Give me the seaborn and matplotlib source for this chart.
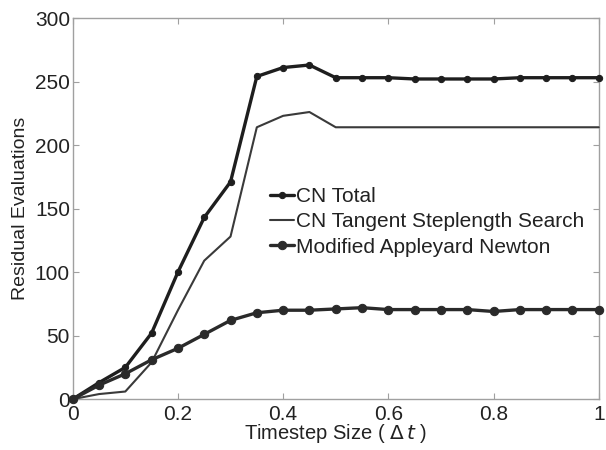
import numpy as np
import pandas as pd
import matplotlib
matplotlib.use("Agg")
import matplotlib.pyplot as plt
import seaborn as sns

timestep = [0.0, 0.05, 0.10, 0.15, 0.20, 0.25, 0.30, 0.35, 0.40, 0.45, 0.50,
            0.55, 0.60, 0.65, 0.70, 0.75, 0.80, 0.85, 0.90, 0.95, 1.0]
cn_total = [0, 13, 25, 52, 100, 143, 171, 254, 261, 263, 253,
            253, 253, 252, 252, 252, 252, 253, 253, 253, 253]
cn_tangent = [0, 4, 6, 29, 70, 109, 128, 214, 223, 226, 214,
              214, 214, 214, 214, 214, 214, 214, 214, 214, 214]
mod_appleyard = [0, 11, 20, 31, 40, 51, 62, 68, 70, 70, 71,
                 72, 70.5, 70.5, 70.5, 70.5, 69, 70.5, 70.5, 70.5, 70.5]
series_names = ["CN Total", "CN Tangent Steplength Search", "Modified Appleyard Newton"]
x_ticks = [0, 0.2, 0.4, 0.6, 0.8, 1]
x_tick_labels = ["0", "0.2", "0.4", "0.6", "0.8", "1"]
y_ticks = [0, 50, 100, 150, 200, 250, 300]

df = pd.DataFrame({
    "x": timestep * 3,
    "y": cn_total + cn_tangent + mod_appleyard,
    "series": [series_names[0]] * len(timestep)
              + [series_names[1]] * len(timestep)
              + [series_names[2]] * len(timestep),
})

sns.set_theme(style="white")
plt.rcParams["font.family"] = ["Liberation Sans", "DejaVu Sans"]

fig = plt.figure(figsize=(6.06, 4.5), dpi=100)
ax = fig.add_axes([0.120, 0.113, 0.868, 0.847])

styles = {
    series_names[0]: dict(lw=2.4, marker="o", ms=4.5, color="#1e1e1e"),
    series_names[1]: dict(lw=1.5, marker=None, ms=0, color="#3a3a3a"),
    series_names[2]: dict(lw=2.4, marker="o", ms=6, color="#2a2a2a"),
}
for name in series_names:
    sub = df[df["series"] == name]
    st = styles[name]
    sns.lineplot(data=sub, x="x", y="y", ax=ax, label=name, color=st["color"],
                 linewidth=st["lw"], marker=st["marker"], markersize=st["ms"],
                 markeredgecolor=st["color"], markerfacecolor=st["color"],
                 clip_on=False, zorder=3)

ax.set_xlim(0, 1)
ax.set_ylim(0, 300)
ax.set_xticks(x_ticks)
ax.set_xticklabels(x_tick_labels)
ax.set_yticks(y_ticks)
for s in ax.spines.values():
    s.set_color("#a0a0a0")
    s.set_linewidth(1.0)
ax.tick_params(axis="both", which="both", direction="in", length=4, width=0.8,
               color="#a0a0a0", labelsize=15, labelcolor="#222222", pad=2,
               top=True, right=True, bottom=True, left=True)
ax.tick_params(axis="x", pad=4)
ax.set_xlabel(r"Timestep Size ( $\Delta\,\it{t}$ )", fontsize=14.5, color="#222222", labelpad=-1)
ax.set_ylabel("Residual Evaluations", fontsize=14, color="#222222", labelpad=4)

leg = ax.legend(loc="upper left", bbox_to_anchor=(0.36, 0.578), frameon=False,
                fontsize=15, handlelength=1.15, handletextpad=0.1, labelspacing=0.3,
                borderaxespad=0)
for t in leg.get_texts():
    t.set_color("#222222")

fig.savefig("out.png", dpi=100)
